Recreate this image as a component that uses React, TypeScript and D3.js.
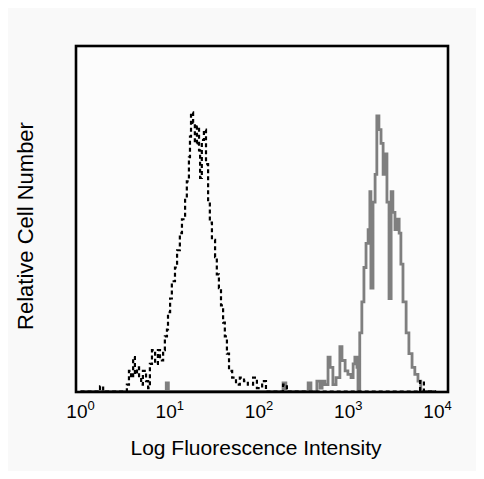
import React from "react";
import * as d3 from "d3";

// Channels on a 1024-channel, 4-decade log scale; counts as % of full scale
const dashedChannel = [0, 13, 56, 65, 113, 133, 139, 145, 151, 156, 162, 168, 174, 179, 188, 194, 199, 205, 214, 222, 228, 237, 242, 248, 251, 257, 262, 271, 277, 285, 291, 300, 305, 311, 314, 317, 323, 328, 334, 340, 343, 348, 354, 360, 366, 371, 377, 386, 391, 397, 403, 409, 414, 420, 426, 435, 446, 457, 469, 480, 495, 506, 521, 532, 581, 592, 974, 985, 997, 1020];
const dashedCount = [0, 0, 1.5, 0, 0, 2, 6, 4, 10, 5, 7, 4, 2, 6, 3, 1, 8, 12, 8, 12, 9, 12, 16, 18, 23, 27, 32, 36, 41, 46, 50, 56, 61, 68, 74, 81, 78, 72, 77, 70, 62, 73, 76, 66, 55, 49, 44, 39, 34, 30, 25, 20, 16, 11, 6, 4, 2, 4, 3, 2, 4, 1, 3, 0, 2, 0, 3, 0, 0, 0];

const solidChannel = [0, 246, 252, 486, 581, 589, 653, 661, 678, 687, 693, 701, 710, 716, 724, 733, 744, 750, 759, 767, 776, 782, 787, 793, 796, 801, 807, 813, 819, 825, 830, 833, 839, 845, 850, 856, 862, 868, 873, 879, 885, 891, 896, 902, 908, 914, 919, 925, 934, 942, 951, 959, 968, 976, 1020];
const solidCount = [0, 2.5, 0, 0, 2.5, 0, 2.5, 0, 3, 1, 3, 2, 10, 7, 2, 4, 13, 9, 6, 5, 4, 8, 10, 7, 0, 17, 26, 36, 43, 47, 58, 30, 55, 63, 80, 76, 72, 63, 69, 55, 27, 58, 52, 47, 50, 46, 37, 26, 17, 11, 7, 5, 3, 0, 0];

const tickChannels = [0, 256, 512, 768, 1024];
const tickExponents = ["0", "1", "2", "3", "4"];

const xTitle = "Log Fluorescence Intensity";
const yTitle = "Relative Cell Number";

const W = 468;
const H = 463;
const frame = { left: 68, right: 440, top: 38, bottom: 384 };

export default function App() {
  const x = d3.scaleLinear().domain([0, 1024]).range([72.5, 429.5]);
  const y = d3.scaleLinear().domain([0, 100]).range([383.5, 39]);

  const line = d3
    .line<[number, number]>()
    .x((d) => x(d[0]))
    .y((d) => y(d[1]))
    .curve(d3.curveStepAfter);

  const dashed = dashedChannel.map((c, i) => [c, dashedCount[i]] as [number, number]);
  const solid = solidChannel.map((c, i) => [c, solidCount[i]] as [number, number]);

  const font = "Liberation Sans, Arial, Helvetica, sans-serif";

  return (
    <svg width={W} height={H} style={{ display: "block" }}>
      <rect x={0} y={0} width={W} height={H} fill="#f9f9f9" />
      <rect
        x={frame.left}
        y={frame.top}
        width={frame.right - frame.left}
        height={frame.bottom - frame.top}
        fill="#fcfcfc"
      />
      <path d={line(solid) || ""} fill="none" stroke="#7f7f7f" strokeWidth={2.8} />
      <path
        d={line(dashed) || ""}
        fill="none"
        stroke="#000"
        strokeWidth={2.2}
        strokeDasharray="4,3"
      />
      <rect
        x={frame.left}
        y={frame.top}
        width={frame.right - frame.left}
        height={frame.bottom - frame.top}
        fill="none"
        stroke="#000"
        strokeWidth={2.6}
      />
      {tickChannels.map((c, i) => (
        <text
          key={c}
          x={x(c)}
          y={410}
          textAnchor="middle"
          fontFamily={font}
          fontSize={19}
          fill="#000"
        >
          10
          <tspan dy={-8} fontSize={13}>
            {tickExponents[i]}
          </tspan>
        </text>
      ))}
      <text
        x={248}
        y={447}
        textAnchor="middle"
        fontFamily={font}
        fontSize={21}
        fill="#000"
      >
        {xTitle}
      </text>
      <text
        transform={`translate(25,218) rotate(-90)`}
        textAnchor="middle"
        fontFamily={font}
        fontSize={22}
        fill="#000"
      >
        {yTitle}
      </text>
    </svg>
  );
}
